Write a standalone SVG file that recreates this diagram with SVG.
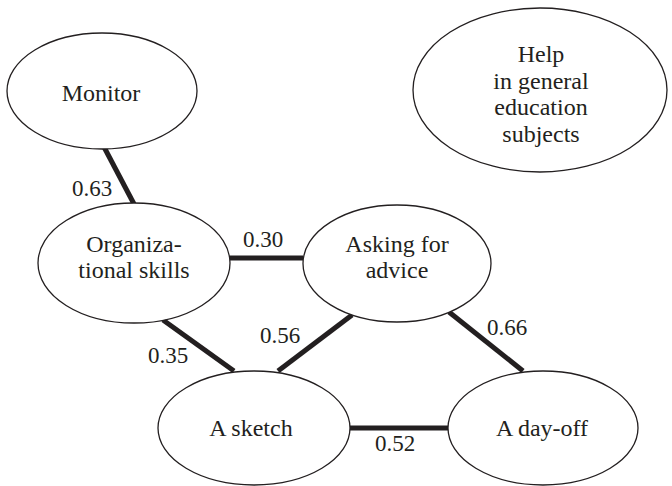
<svg xmlns="http://www.w3.org/2000/svg" width="672" height="486" viewBox="0 0 672 486" font-family="'Liberation Serif', 'DejaVu Serif', 'Noto Serif', 'Times New Roman', serif">
<style>
.node ellipse{fill:#fff;stroke:#231f20;stroke-width:1.3}
text{fill:#231f20;text-anchor:middle}
.node text{font-size:24px}
.lbl{font-size:23px}
.edge{stroke:#231f20;stroke-width:5;fill:none}
</style>
<rect width="672" height="486" fill="#fff"/>
<g id="connectors">
<line class="edge" x1="104" y1="147" x2="134" y2="204"/>
<line class="edge" x1="230" y1="258" x2="303" y2="258"/>
<line class="edge" x1="163" y1="320" x2="234" y2="371"/>
<line class="edge" x1="352" y1="315" x2="278" y2="371"/>
<line class="edge" x1="449" y1="312" x2="523" y2="371"/>
<line class="edge" x1="350" y1="428" x2="448" y2="428"/>
<text class="lbl" x="92" y="196">0.63</text>
<text class="lbl" x="263" y="247">0.30</text>
<text class="lbl" x="168" y="363">0.35</text>
<text class="lbl" x="280" y="343">0.56</text>
<text class="lbl" x="507" y="335">0.66</text>
<text class="lbl" x="395" y="451">0.52</text>
</g>
<g id="monitor" class="node"><ellipse cx="102" cy="91" rx="95" ry="58"/><text x="101" y="101">Monitor</text></g>
<g id="help" class="node"><ellipse cx="540" cy="90" rx="127" ry="82"/>
<text x="541" y="62">Help</text><text x="541" y="88.5">in general</text><text x="541" y="115">education</text><text x="541" y="141.5">subjects</text></g>
<g id="org" class="node"><ellipse cx="134" cy="263" rx="96" ry="60"/><text x="134" y="252">Organiza-</text><text x="134" y="278">tional skills</text></g>
<g id="asking" class="node"><ellipse cx="397" cy="263.5" rx="94" ry="58.5"/><text x="397" y="252">Asking for</text><text x="397" y="278">advice</text></g>
<g id="sketch" class="node"><ellipse cx="254" cy="428" rx="96" ry="57"/><text x="251" y="436">A sketch</text></g>
<g id="dayoff" class="node"><ellipse cx="543" cy="428" rx="95" ry="57"/><text x="542" y="436">A day-off</text></g>
</svg>
